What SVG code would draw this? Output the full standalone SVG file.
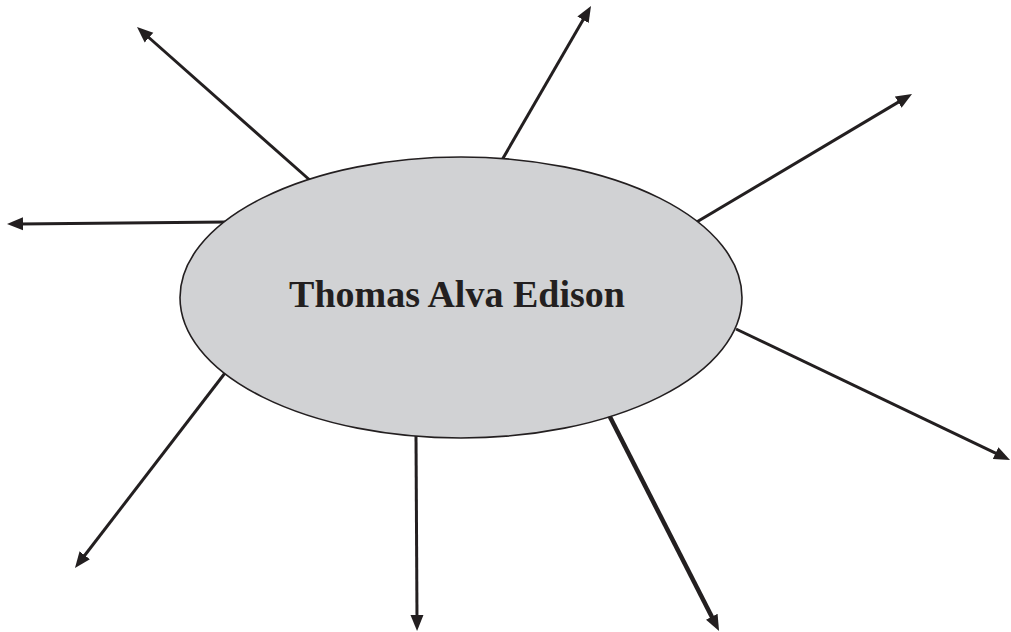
<svg xmlns="http://www.w3.org/2000/svg" width="1011" height="632" viewBox="0 0 1011 632">
<style>
.c{stroke:#231f20;stroke-width:3;fill:none;marker-end:url(#ah)}
.t{stroke-width:4.5}
.n{fill:#d1d2d4;stroke:#231f20;stroke-width:1.6}
.lbl{font-family:"Liberation Serif",serif;font-weight:bold;font-size:38px;fill:#231f20}
</style>
<defs>
<marker id="ah" markerUnits="userSpaceOnUse" markerWidth="18" markerHeight="14" refX="4" refY="6.5" orient="auto" viewBox="0 0 18 13">
<path d="M0,0 L16,6.5 L0,13 z" fill="#231f20"/>
</marker>
</defs>
<rect width="1011" height="632" fill="#fff"/>
<g id="connectors">
<line class="c" x1="312" y1="182" x2="146" y2="35"/>
<line class="c" x1="502" y1="160" x2="585" y2="16.4"/>
<line class="c" x1="695" y1="223" x2="901.7" y2="100.1"/>
<line class="c" x1="227" y1="222" x2="19" y2="223.9"/>
<line class="c" x1="736" y1="329" x2="999.2" y2="454.8"/>
<line class="c" x1="225" y1="373" x2="82.3" y2="558.5"/>
<line class="c" x1="416" y1="436" x2="417" y2="619"/>
<line class="c t" x1="609" y1="415" x2="713.6" y2="620.3"/>
</g>
<g id="node-edison">
<ellipse class="n" cx="461" cy="297.5" rx="281" ry="140.5"/>
<text class="lbl" x="457" y="307" text-anchor="middle">Thomas Alva Edison</text>
</g>
</svg>
